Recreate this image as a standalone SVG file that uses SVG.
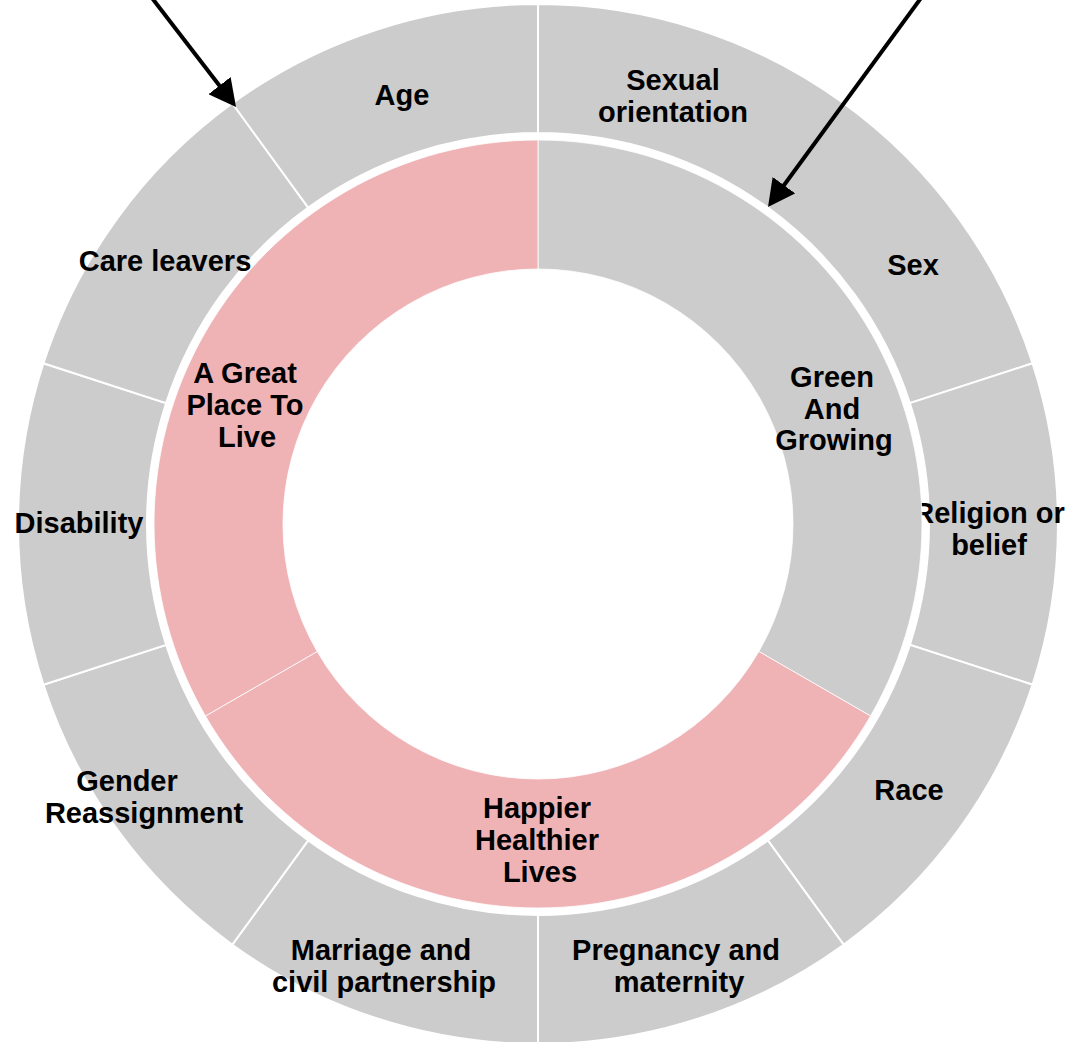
<svg xmlns="http://www.w3.org/2000/svg" width="1067" height="1042" viewBox="0 0 1067 1042">
<style>
.outer{fill:#cccccc;stroke:#ffffff;stroke-width:2;stroke-linejoin:miter}
.pink{fill:#efb3b6;stroke:#ffffff;stroke-width:0.8}
.gray{fill:#cccccc;stroke:#ffffff;stroke-width:0.8}
text{font-family:"Liberation Sans",Arial,Helvetica,sans-serif;font-weight:bold;font-size:29px;fill:#000000;text-anchor:middle}
.arrow{stroke:#000000;stroke-width:4;fill:none}
</style>
<defs>
<marker id="ah" viewBox="0 0 27 28" refX="13" refY="14" markerWidth="27" markerHeight="28" markerUnits="userSpaceOnUse" orient="auto">
<path d="M0,0 L27,14 L0,28 Z" fill="#000000"/>
</marker>
</defs>
<rect width="1067" height="1042" fill="#ffffff"/>
<g id="outer-ring">
<g id="sexual-orientation"><path class="outer" d="M538 4 A520 520 0 0 1 843.65 103.31 L767.82 207.68 A391 391 0 0 0 538 133 Z"/><text x="673" y="90">Sexual</text><text x="673" y="122">orientation</text></g>
<g id="sex"><path class="outer" d="M843.65 103.31 A520 520 0 0 1 1032.55 363.31 L909.86 403.17 A391 391 0 0 0 767.82 207.68 Z"/><text x="913" y="275">Sex</text></g>
<g id="religion"><path class="outer" d="M1032.55 363.31 A520 520 0 0 1 1032.55 684.69 L909.86 644.83 A391 391 0 0 0 909.86 403.17 Z"/><text x="989" y="523">Religion or</text><text x="989" y="555">belief</text></g>
<g id="race"><path class="outer" d="M1032.55 684.69 A520 520 0 0 1 843.65 944.69 L767.82 840.32 A391 391 0 0 0 909.86 644.83 Z"/><text x="909" y="800">Race</text></g>
<g id="pregnancy"><path class="outer" d="M843.65 944.69 A520 520 0 0 1 538 1044 L538 915 A391 391 0 0 0 767.82 840.32 Z"/><text x="676" y="960">Pregnancy and</text><text x="679" y="992">maternity</text></g>
<g id="marriage"><path class="outer" d="M538 1044 A520 520 0 0 1 232.35 944.69 L308.18 840.32 A391 391 0 0 0 538 915 Z"/><text x="381" y="960">Marriage and</text><text x="384" y="992">civil partnership</text></g>
<g id="gender"><path class="outer" d="M232.35 944.69 A520 520 0 0 1 43.45 684.69 L166.14 644.83 A391 391 0 0 0 308.18 840.32 Z"/><text x="127" y="791">Gender</text><text x="144" y="823">Reassignment</text></g>
<g id="disability"><path class="outer" d="M43.45 684.69 A520 520 0 0 1 43.45 363.31 L166.14 403.17 A391 391 0 0 0 166.14 644.83 Z"/><text x="79" y="533">Disability</text></g>
<g id="care-leavers"><path class="outer" d="M43.45 363.31 A520 520 0 0 1 232.35 103.31 L308.18 207.68 A391 391 0 0 0 166.14 403.17 Z"/><text x="165" y="271">Care leavers</text></g>
<g id="age"><path class="outer" d="M232.35 103.31 A520 520 0 0 1 538 4 L538 133 A391 391 0 0 0 308.18 207.68 Z"/><text x="402" y="105">Age</text></g>
</g>
<g id="inner-ring">
<g id="green-and-growing"><path class="gray" d="M538 140 A384 384 0 0 1 870.55 716 L758.84 651.5 A255 255 0 0 0 538 269 Z"/><text x="832" y="387">Green</text><text x="832" y="418.5">And</text><text x="834" y="450">Growing</text></g>
<g id="happier-healthier-lives"><path class="pink" d="M870.55 716 A384 384 0 0 1 205.45 716 L317.16 651.5 A255 255 0 0 0 758.84 651.5 Z"/><text x="537" y="818">Happier</text><text x="537" y="850">Healthier</text><text x="540" y="882">Lives</text></g>
<g id="great-place-to-live"><path class="pink" d="M205.45 716 A384 384 0 0 1 538 140 L538 269 A255 255 0 0 0 317.16 651.5 Z"/><text x="245" y="383">A Great</text><text x="245" y="415">Place To</text><text x="247" y="447">Live</text></g>
</g>
<g id="connectors">
<line class="arrow" x1="152" y1="-2" x2="227.45" y2="95.91" marker-end="url(#ah)"/>
<line class="arrow" x1="921" y1="-2" x2="776.27" y2="195.7" marker-end="url(#ah)"/>
</g>
</svg>
